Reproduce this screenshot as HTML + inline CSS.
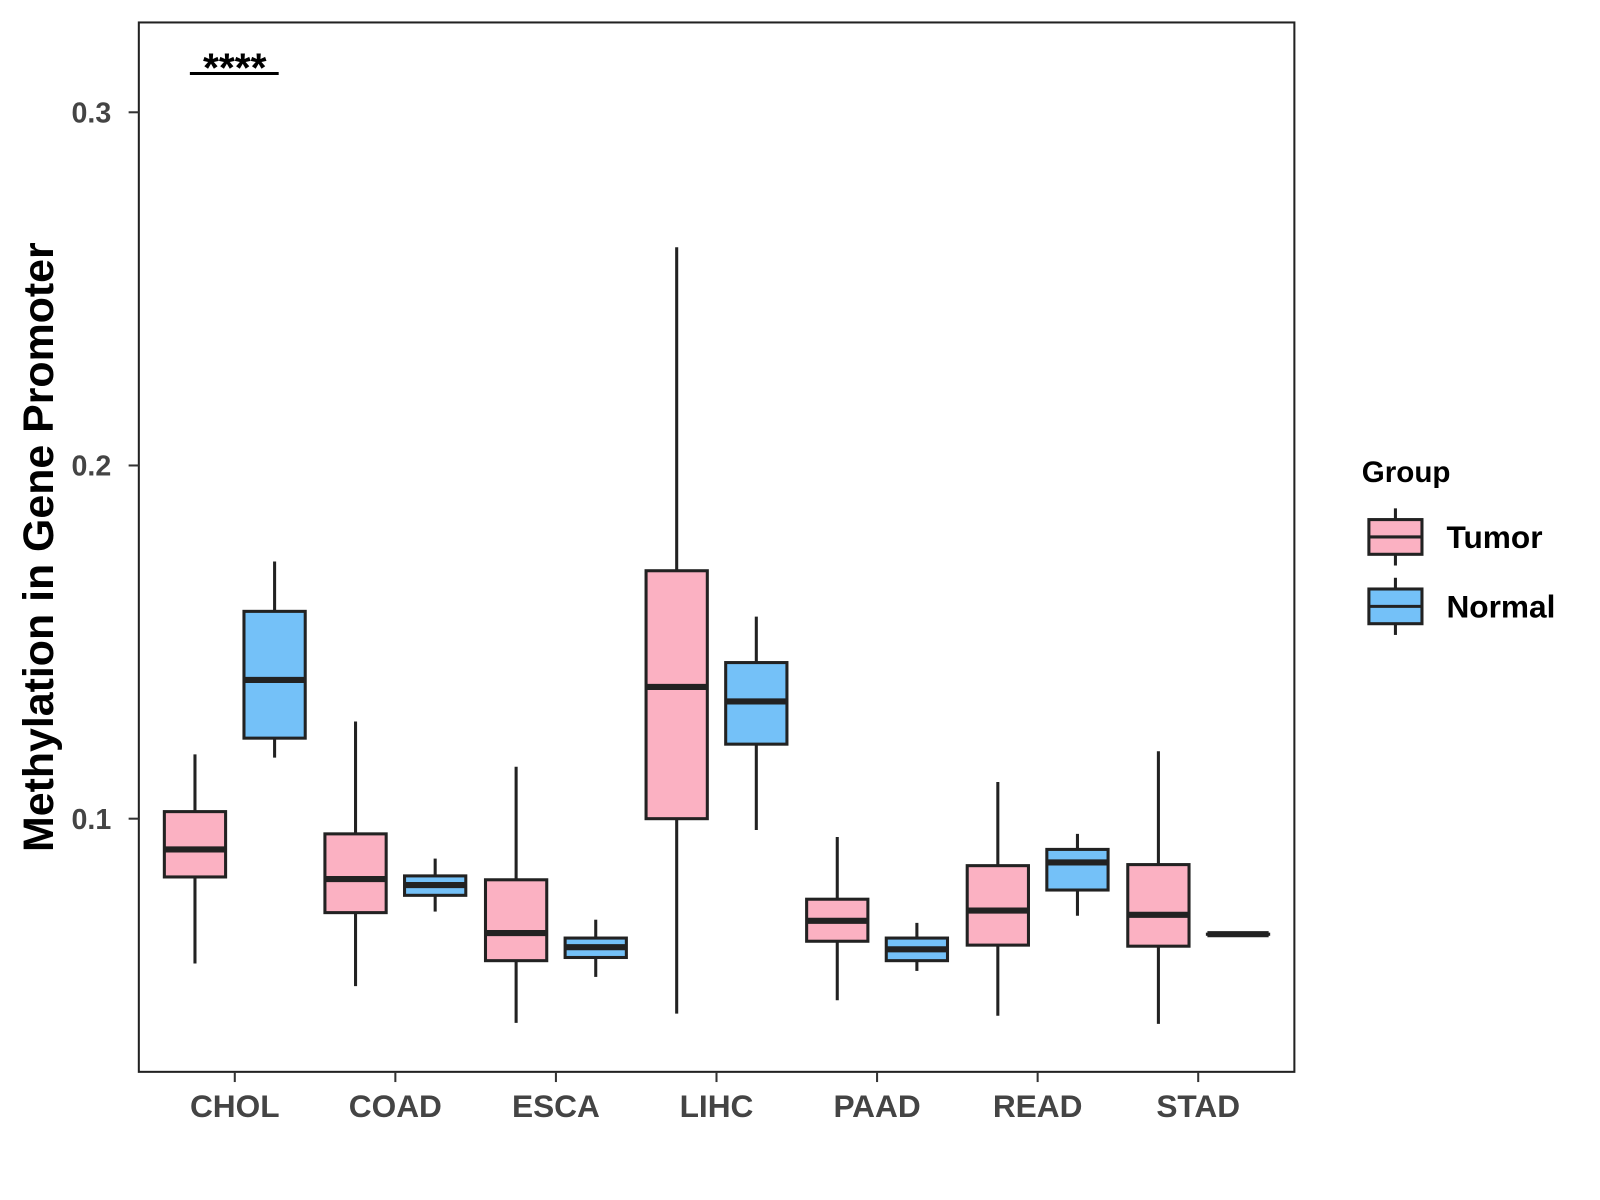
<!DOCTYPE html>
<html><head><meta charset="utf-8"><style>
body{margin:0;background:#fff}
svg{display:block;font-family:"Liberation Sans",Arial,sans-serif}
</style></head><body>
<svg id="chart" width="1600" height="1200">
<g transform="scale(1.0208)">
<rect x="136" y="22" width="1132" height="1028" fill="#fff" stroke="#222" stroke-width="2"/>
<g id="boxes"></g>
<g id="axes"></g>
<text x="38" y="536" transform="rotate(-90 38 536)" text-anchor="middle" dominant-baseline="central" font-size="42" font-weight="bold" fill="#000">Methylation in Gene Promoter</text>
<line x1="186" y1="72" x2="273" y2="72" stroke="#000" stroke-width="3"/>
<text x="230" y="80" text-anchor="middle" font-size="40" font-weight="bold" fill="#000">****</text>
<g>
<text x="1334" y="472" font-size="29" font-weight="bold" fill="#000">Group</text>
<g>
<line x1="1367" y1="498" x2="1367" y2="554" stroke="#222" stroke-width="3"/>
<rect x="1341" y="509" width="52" height="34" fill="#FBB1C2" stroke="#222" stroke-width="3"/>
<line x1="1341" y1="526" x2="1393" y2="526" stroke="#222" stroke-width="3"/>
<text x="1417" y="537" font-size="31" font-weight="bold" fill="#000">Tumor</text>
</g>
<g>
<line x1="1367" y1="566" x2="1367" y2="622" stroke="#222" stroke-width="3"/>
<rect x="1341" y="577" width="52" height="34" fill="#74C1F8" stroke="#222" stroke-width="3"/>
<line x1="1341" y1="594" x2="1393" y2="594" stroke="#222" stroke-width="3"/>
<text x="1417" y="605" font-size="31" font-weight="bold" fill="#000">Normal</text>
</g>
</g>
</g>
</svg>
<script>
const categories=["CHOL","COAD","ESCA","LIHC","PAAD","READ","STAD"];
const tumorStats=[
[0.0590,0.0835,0.0913,0.1020,0.1182],
[0.0526,0.0734,0.0829,0.0957,0.1275],
[0.0422,0.0598,0.0676,0.0827,0.1147],
[0.0448,0.1000,0.1373,0.1702,0.2618],
[0.0486,0.0653,0.0711,0.0772,0.0948],
[0.0442,0.0642,0.0740,0.0867,0.1104],
[0.0419,0.0639,0.0728,0.0870,0.1191]];
const normalStats=[
[0.1173,0.1228,0.1393,0.1587,0.1728],
[0.0737,0.0783,0.0812,0.0838,0.0887],
[0.0552,0.0607,0.0636,0.0662,0.0714],
[0.0968,0.1211,0.1332,0.1442,0.1572],
[0.0569,0.0598,0.0630,0.0662,0.0705],
[0.0725,0.0798,0.0876,0.0913,0.0957],
[0.0673,0.0673,0.0673,0.0673,0.0673]];
const yTicks=[0.1,0.2,0.3];
const NS="http://www.w3.org/2000/svg";
function yScale(v){return 110+(0.3-v)*3460;}
function xScale(i){return 230+i*157.3;}
function mk(tag,attrs,parent){const e=document.createElementNS(NS,tag);for(const k in attrs)e.setAttribute(k,attrs[k]);parent.appendChild(e);return e;}
const boxes=document.getElementById('boxes'),axes=document.getElementById('axes');
function drawBox(s,cx,fill,name){
  const g=mk('g',{},boxes);
  
  
  const w=60;
  mk('line',{x1:cx,x2:cx,y1:yScale(s[4]),y2:yScale(s[0]),stroke:'#222','stroke-width':3},g);
  mk('rect',{x:cx-w/2,y:yScale(s[3]),width:w,height:Math.max(yScale(s[1])-yScale(s[3]),0.1),fill:fill,stroke:'#222','stroke-width':3},g);
  mk('line',{x1:cx-w/2,x2:cx+w/2,y1:yScale(s[2]),y2:yScale(s[2]),stroke:'#222','stroke-width':6},g);
}
categories.forEach((c,i)=>{
  drawBox(tumorStats[i],xScale(i)-39,'#FBB1C2','box-tumor-'+c.toLowerCase());
  drawBox(normalStats[i],xScale(i)+39,'#74C1F8','box-normal-'+c.toLowerCase());
  mk('line',{x1:xScale(i),x2:xScale(i),y1:1050,y2:1060,stroke:'#333','stroke-width':2},axes);
  const t=mk('text',{x:xScale(i),y:1094,'text-anchor':'middle','font-size':31,'font-weight':'bold',fill:'#444'},axes);
  t.textContent=c;
  
  
});
yTicks.forEach(v=>{
  mk('line',{x1:126,x2:136,y1:yScale(v),y2:yScale(v),stroke:'#333','stroke-width':2},axes);
  const t=mk('text',{x:109,y:yScale(v)+10,'text-anchor':'end','font-size':28,'font-weight':'bold',fill:'#444'},axes);
  t.textContent=v.toFixed(1);
  
  
});
</script>
</body></html>
